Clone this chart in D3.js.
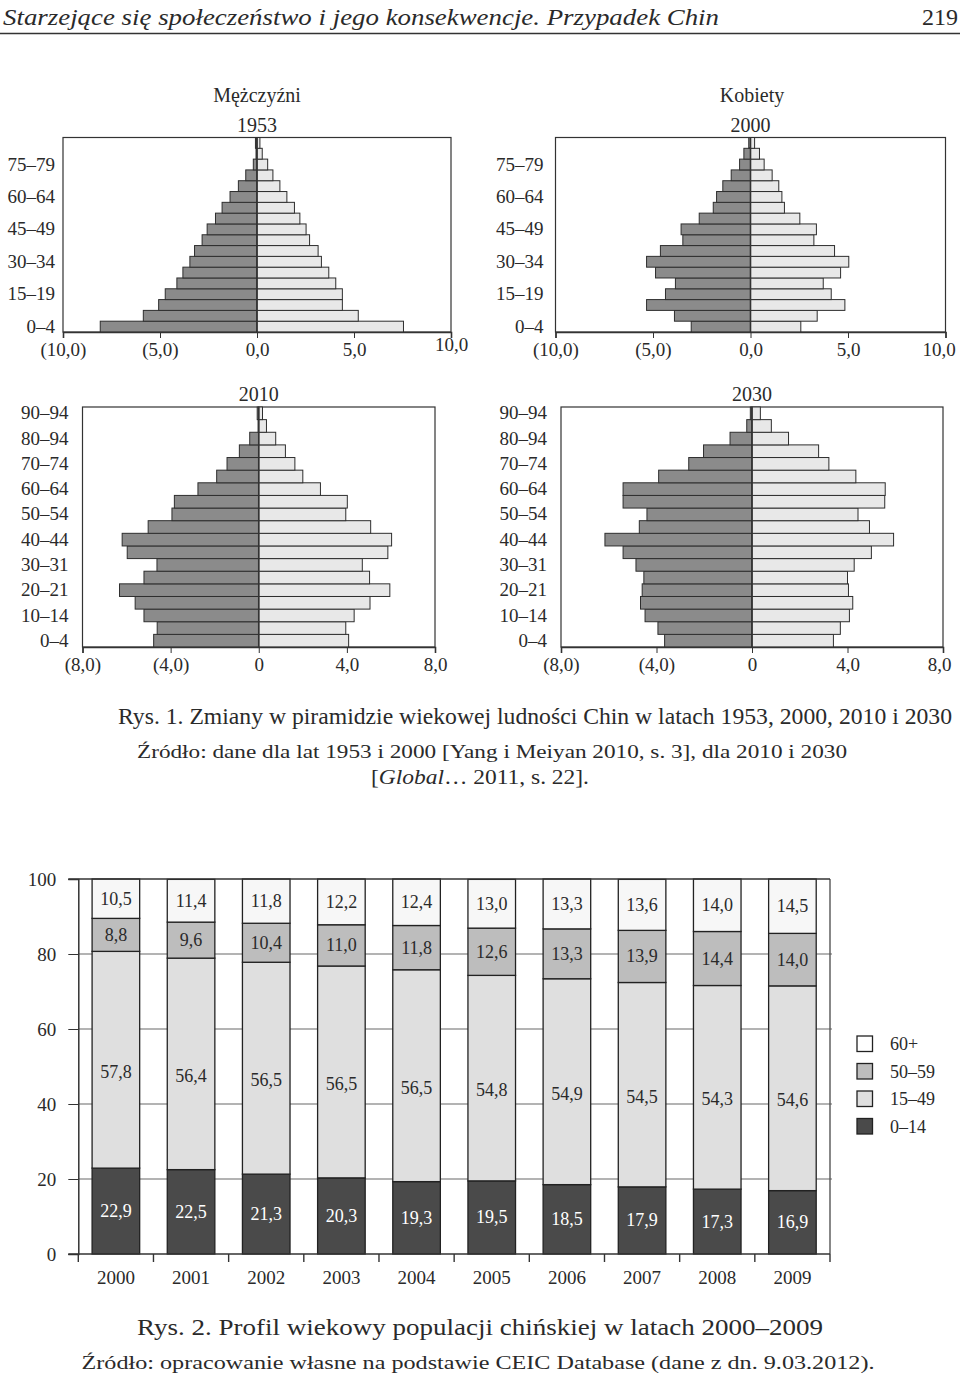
<!DOCTYPE html>
<html><head><meta charset="utf-8">
<script src="https://cdn.jsdelivr.net/npm/d3@7"></script>
<style>
body{margin:0;background:#fff}
svg{display:block}
text{font-family:"Liberation Serif","Times New Roman",serif}
</style>
</head><body>
<svg id="c" width="960" height="1376"></svg>
<script>
// ---------------- DATA ----------------
const ages18 = ["0–4","5–9","10–14","15–19","20–24","25–29","30–34","35–39","40–44","45–49","50–54","55–59","60–64","65–69","70–74","75–79","80–84","85+"];
const ages19 = ["0–4","5–9","10–14","15–19","20–24","25–29","30–34","35–39","40–44","45–49","50–54","55–59","60–64","65–69","70–74","75–79","80–84","85–89","90–94"];
const ageLabels18 = ["0–4","15–19","30–34","45–49","60–64","75–79"];
const ageLabels19 = ["0–4","10–14","20–21","30–31","40–44","50–54","60–64","70–74","80–94","90–94"];
const xTicks10 = [-10,-5,0,5,10];
const xTickLabels10 = ["(10,0)","(5,0)","0,0","5,0","10,0"];
const xTicks8 = [-8,-4,0,4,8];
const xTickLabels8 = ["(8,0)","(4,0)","0","4,0","8,0"];

const male1953   = [8.08,5.86,5.07,4.73,4.13,3.82,3.46,3.22,2.83,2.57,2.14,1.80,1.39,0.96,0.58,0.19,0.05,0.08];
const female1953 = [7.55,5.22,4.40,4.40,4.06,3.70,3.32,3.15,2.71,2.53,2.21,1.93,1.54,1.18,0.82,0.55,0.27,0.15];
const male2000   = [3.04,3.90,5.33,4.36,3.85,4.87,5.33,4.62,3.47,3.56,2.63,1.91,1.74,1.42,0.99,0.56,0.34,0.09];
const female2000 = [2.58,3.42,4.84,4.14,3.73,4.62,5.04,4.31,3.25,3.38,2.53,1.74,1.61,1.45,1.11,0.70,0.46,0.21];
const male2010   = [4.77,4.61,5.21,5.61,6.32,5.21,4.62,5.97,6.20,5.02,3.94,3.83,2.76,1.91,1.44,0.88,0.41,0.03,0.07];
const female2010 = [4.08,3.95,4.33,5.05,5.95,5.03,4.70,5.86,6.03,5.08,3.95,4.02,2.80,2.00,1.64,1.21,0.77,0.35,0.17];
const male2030   = [3.66,3.94,4.48,4.67,4.60,4.53,4.86,5.40,6.16,4.72,4.40,5.40,5.40,3.91,2.65,2.03,0.92,0.22,0.07];
const female2030 = [3.41,3.70,4.08,4.22,4.04,4.00,4.28,5.00,5.93,4.92,4.44,5.56,5.58,4.35,3.22,2.79,1.53,0.81,0.35];

const years = ["2000","2001","2002","2003","2004","2005","2006","2007","2008","2009"];
const groupKeys = ["0–14","15–49","50–59","60+"];
const share0_14  = [22.9,22.5,21.3,20.3,19.3,19.5,18.5,17.9,17.3,16.9];
const share15_49 = [57.8,56.4,56.5,56.5,56.5,54.8,54.9,54.5,54.3,54.6];
const share50_59 = [8.8,9.6,10.4,11.0,11.8,12.6,13.3,13.9,14.4,14.0];
const share60p   = [10.5,11.4,11.8,12.2,12.4,13.0,13.3,13.6,14.0,14.5];
const yTicksBar = [0,20,40,60,80,100];
const legendOrder = ["60+","50–59","15–49","0–14"];

// ---------------- DRAW ----------------
const svg = d3.select("#c");
const ink = "#2a2a2a";

// header
svg.append("text").attr("x",3).attr("y",25).attr("font-size",24).attr("font-style","italic")
  .attr("fill",ink).attr("textLength",716).attr("lengthAdjust","spacingAndGlyphs")
  .text("Starzejące się społeczeństwo i jego konsekwencje. Przypadek Chin");
svg.append("text").attr("x",958).attr("y",25).attr("font-size",24).attr("text-anchor","end").attr("fill",ink).text("219");
svg.append("line").attr("x1",0).attr("x2",960).attr("y1",33.5).attr("y2",33.5).attr("stroke","#333").attr("stroke-width",1.5);

svg.append("text").attr("x",257).attr("y",102).attr("font-size",20).attr("text-anchor","middle").attr("fill",ink).text("Mężczyźni");
svg.append("text").attr("x",752).attr("y",102).attr("font-size",20).attr("text-anchor","middle").attr("fill",ink).text("Kobiety");

function pyramid(cfg){
  const g = svg.append("g");
  const x = d3.scaleLinear().domain([-cfg.max, cfg.max]).range([cfg.x0, cfg.x1]);
  const y = d3.scaleBand().domain(cfg.ages).range([cfg.y1, cfg.y0]).padding(0);
  g.append("rect").attr("x",cfg.x0).attr("y",cfg.y0).attr("width",cfg.x1-cfg.x0).attr("height",cfg.y1-cfg.y0)
    .attr("fill","none").attr("stroke","#333").attr("stroke-width",1.2);
  g.selectAll(".m").data(cfg.ages).join("rect")
    .attr("x",(d,i)=>x(-cfg.male[i])).attr("y",d=>y(d))
    .attr("width",(d,i)=>x(0)-x(-cfg.male[i])).attr("height",y.bandwidth())
    .attr("fill","#8b8b8b").attr("stroke","#2e2e2e").attr("stroke-width",1);
  g.selectAll(".f").data(cfg.ages).join("rect")
    .attr("x",x(0)).attr("y",d=>y(d))
    .attr("width",(d,i)=>x(cfg.female[i])-x(0)).attr("height",y.bandwidth())
    .attr("fill","#e8e8e8").attr("stroke","#2e2e2e").attr("stroke-width",1);
  g.append("line").attr("x1",x(0)).attr("x2",x(0)).attr("y1",cfg.y0).attr("y2",cfg.y1).attr("stroke","#333").attr("stroke-width",1.6);
  const ax = g.append("g").attr("transform",`translate(0,${cfg.y1})`)
    .call(d3.axisBottom(x).tickValues(cfg.ticks).tickFormat((d,i)=>cfg.tickLabels[i]).tickSize(6).tickPadding(5));
  ax.attr("font-size",19).attr("color","#333");
  ax.select(".domain").attr("stroke-width",1.6);
  ax.selectAll("text").attr("fill",ink);
  const lastT = ax.selectAll(".tick text").filter((d,i,n)=>i===n.length-1);
  if (cfg.lastDx) lastT.attr("dx",cfg.lastDx);
  if (cfg.lastDy) lastT.attr("dy",cfg.lastDy);
  const tv = cfg.ages.filter((d,i)=>i%cfg.step===0);
  const ay = g.append("g").attr("transform",`translate(${cfg.x0},0)`)
    .call(d3.axisLeft(y).tickValues(tv).tickFormat((d,i)=>cfg.ageLabels[i]).tickSize(0).tickPadding(cfg.pad));
  ay.attr("font-size",19);
  ay.select(".domain").remove();
  ay.selectAll("text").attr("fill",ink);
  g.append("text").attr("x",(cfg.x0+cfg.x1)/2).attr("y",cfg.y0-6).attr("font-size",20)
    .attr("text-anchor","middle").attr("fill",ink).text(cfg.title);
}

pyramid({title:"1953",ages:ages18,male:male1953,female:female1953,max:10,ticks:xTicks10,tickLabels:xTickLabels10,
  ageLabels:ageLabels18,step:3,x0:63,x1:451,y0:137.5,y1:332,pad:8,lastDy:"0.4em"});
pyramid({title:"2000",ages:ages18,male:male2000,female:female2000,max:10,ticks:xTicks10,tickLabels:xTickLabels10,
  ageLabels:ageLabels18,step:3,x0:555.5,x1:945.5,y0:137.5,y1:332,pad:12,lastDx:-7});
pyramid({title:"2010",ages:ages19,male:male2010,female:female2010,max:8,ticks:xTicks8,tickLabels:xTickLabels8,
  ageLabels:ageLabels19,step:2,x0:82.5,x1:435,y0:407,y1:647,pad:14});
pyramid({title:"2030",ages:ages19,male:male2030,female:female2030,max:8,ticks:xTicks8,tickLabels:xTickLabels8,
  ageLabels:ageLabels19,step:2,x0:561,x1:943,y0:407,y1:647,pad:14,lastDx:-4});

// captions fig 1
svg.append("text").attr("x",535).attr("y",724).attr("font-size",23).attr("text-anchor","middle").attr("fill",ink)
  .attr("textLength",834).attr("lengthAdjust","spacingAndGlyphs")
  .text("Rys. 1. Zmiany w piramidzie wiekowej ludności Chin w latach 1953, 2000, 2010 i 2030");
svg.append("text").attr("x",492).attr("y",758).attr("font-size",19).attr("text-anchor","middle").attr("fill",ink)
  .attr("textLength",710).attr("lengthAdjust","spacingAndGlyphs")
  .text("Źródło: dane dla lat 1953 i 2000 [Yang i Meiyan 2010, s. 3], dla 2010 i 2030");
const c2 = svg.append("text").attr("x",480).attr("y",784).attr("font-size",20).attr("text-anchor","middle").attr("fill",ink)
  .attr("textLength",218).attr("lengthAdjust","spacingAndGlyphs");
c2.append("tspan").text("[");
c2.append("tspan").attr("font-style","italic").text("Global");
c2.append("tspan").text("… 2011, s. 22].");

// ---------------- STACKED BAR CHART ----------------
const bx = d3.scaleBand().domain(years).range([78.3, 830]).paddingInner(0.367).paddingOuter(0.1835);
const by = d3.scaleLinear().domain([0,100]).range([1254, 879]);
const rows = years.map((yr,i)=>({year:yr,"0–14":share0_14[i],"15–49":share15_49[i],"50–59":share50_59[i],"60+":share60p[i]}));
const stack = d3.stack().keys(groupKeys)(rows);
const fills = {"0–14":"#4a4a4a","15–49":"#dfdfdf","50–59":"#bdbdbd","60+":"#f7f7f7"};
const labelFill = {"0–14":"#ffffff","15–49":ink,"50–59":ink,"60+":ink};
const labelDy = {"0–14":0,"15–49":12,"50–59":0,"60+":0};
const step = bx.step();
const left = 78.3, right = 830;

const bg = svg.append("g");
bg.selectAll(".grid").data(yTicksBar.filter(d=>d>0 && d<100)).join("line")
  .attr("x1",left).attr("x2",right+2).attr("y1",d=>by(d)).attr("y2",d=>by(d))
  .attr("stroke","#9a9a9a").attr("stroke-width",1.3);
stack.forEach(s=>{
  bg.selectAll(null).data(s).join("rect")
    .attr("x",d=>bx(d.data.year)).attr("width",bx.bandwidth())
    .attr("y",d=>by(d[1])).attr("height",d=>by(d[0])-by(d[1]))
    .attr("fill",fills[s.key]).attr("stroke","#222").attr("stroke-width",1.3);
});
bg.append("line").attr("x1",right).attr("x2",right).attr("y1",by(100)).attr("y2",by(0)).attr("stroke","#555").attr("stroke-width",1.4);
bg.append("line").attr("x1",left-10).attr("x2",right).attr("y1",by(100)).attr("y2",by(100)).attr("stroke","#333").attr("stroke-width",1.4);
const yax = bg.append("g").attr("transform",`translate(${left},0)`)
  .call(d3.axisLeft(by).tickValues(yTicksBar).tickFormat(d3.format("d")).tickSize(10).tickPadding(12));
yax.attr("font-size",19).attr("color","#333");
yax.select(".domain").attr("stroke-width",1.5);
yax.selectAll("text").attr("fill",ink);
bg.append("line").attr("x1",left-10).attr("x2",right).attr("y1",by(0)).attr("y2",by(0)).attr("stroke","#333").attr("stroke-width",1.5);
const bounds = d3.range(years.length+1).map(i=>left+i*step);
bg.selectAll(".xt").data(bounds).join("line").attr("x1",d=>d).attr("x2",d=>d)
  .attr("y1",by(0)).attr("y2",by(0)+8).attr("stroke","#333").attr("stroke-width",1.4);
bg.selectAll(".xl").data(years).join("text")
  .attr("x",d=>bx(d)+bx.bandwidth()/2).attr("y",1284).attr("text-anchor","middle")
  .attr("font-size",19).attr("fill",ink).text(d=>d);
const fmt = v => v.toFixed(1).replace(".",",");
stack.forEach(s=>{
  bg.selectAll(null).data(s).join("text")
    .attr("x",d=>bx(d.data.year)+bx.bandwidth()/2)
    .attr("y",d=>(by(d[0])+by(d[1]))/2 + labelDy[s.key] + 6)
    .attr("text-anchor","middle").attr("font-size",18).attr("fill",labelFill[s.key])
    .text(d=>fmt(d.data[s.key]));
});
const lg = svg.append("g").attr("transform","translate(857,1036)");
legendOrder.forEach((k,i)=>{
  lg.append("rect").attr("x",0).attr("y",i*27.5).attr("width",15.5).attr("height",15.5)
    .attr("fill", k==="60+" ? "#ffffff" : fills[k]).attr("stroke","#222").attr("stroke-width",1.3);
  lg.append("text").attr("x",33).attr("y",i*27.5+14).attr("font-size",18).attr("fill",ink).text(k);
});

svg.append("text").attr("x",480).attr("y",1335).attr("font-size",23).attr("text-anchor","middle").attr("fill",ink)
  .attr("textLength",686).attr("lengthAdjust","spacingAndGlyphs")
  .text("Rys. 2. Profil wiekowy populacji chińskiej w latach 2000–2009");
svg.append("text").attr("x",478).attr("y",1369).attr("font-size",19).attr("text-anchor","middle").attr("fill",ink)
  .attr("textLength",793).attr("lengthAdjust","spacingAndGlyphs")
  .text("Źródło: opracowanie własne na podstawie CEIC Database (dane z dn. 9.03.2012).");
</script>
</body></html>
